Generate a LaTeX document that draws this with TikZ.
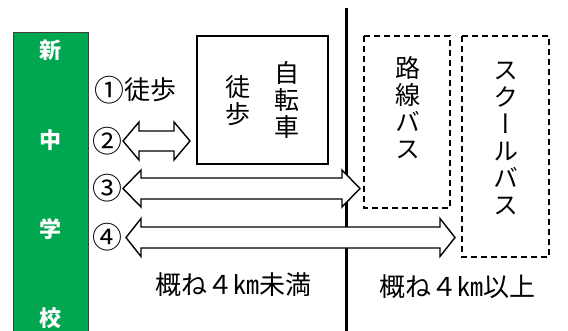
\documentclass[tikz,border=0pt]{standalone}
\usepackage{fontspec}
\newfontfamily\cjk{Noto Sans CJK JP}
\newfontfamily\cjkv{Noto Sans CJK JP}[RawFeature=+vert]
\definecolor{bargreen}{HTML}{00A650}
\newcommand\circnum[1]{\raisebox{-0.08em}{\scalebox{1.15}{#1}}}
\tikzset{
  txt/.style={font=\cjk\fontsize{26}{27}\selectfont, inner sep=0pt},
  vtxt/.style={font=\cjkv\fontsize{25}{27}\selectfont, inner sep=0pt, align=center},
  gtxt/.style={font=\cjk\bfseries\fontsize{22}{24}\selectfont, text=white, inner sep=0pt},
  arrowbox/.style={draw=black, fill=white, line width=1.4pt, line join=miter},
  solidbox/.style={draw=black, line width=1.8pt},
  dashbox/.style={draw=black, line width=1.4pt, dash pattern=on 6pt off 4pt},
}
\newcommand\dblarrow[6]{%
  \draw[arrowbox] (#1,#3) -- ({#1+#6},{#3-#5}) -- ({#1+#6},{#3-#4}) -- ({#2-#6},{#3-#4})
    -- ({#2-#6},{#3-#5}) -- (#2,#3) -- ({#2-#6},{#3+#5}) -- ({#2-#6},{#3+#4})
    -- ({#1+#6},{#3+#4}) -- ({#1+#6},{#3+#5}) -- cycle;}
\begin{document}
\begin{tikzpicture}[x=1pt,y=-1pt]
\useasboundingbox (0,0) rectangle (568,330);
% green bar
\fill[bargreen, draw=black!75, line width=1pt] (13,32) rectangle (88,334);
\node[gtxt] (g1) at (50.5,50) {新};
\node[gtxt] (g2) at (50.5,140) {中};
\node[gtxt] (g3) at (50.5,229) {学};
\node[gtxt] (g4) at (50.5,318) {校};
% divider
\draw[line width=3pt] (346,8) -- (346,332);
% boxes
\draw[solidbox] (197,36) rectangle (328,164);
\node[vtxt] (walk) at (238,101) {徒\\歩};
\node[vtxt] (bike) at (287,100) {自\\転\\車};
\draw[dashbox] (364,36) rectangle (450,208);
\node[vtxt] (rbus) at (408,108) {路\\線\\バ\\ス};
\draw[dashbox] (462,36) rectangle (549,257);
\node[vtxt] (sbus) at (506,138) {ス\\ク\\ー\\ル\\バ\\ス};
% labels
\node[txt, anchor=west] (l1) at (94,90) {\circnum{①}徒歩};
\node[txt] (l2) at (107,141) {\circnum{②}};
\node[txt] (l3) at (107,188) {\circnum{③}};
\node[txt] (l4) at (107,237) {\circnum{④}};
% arrows
\dblarrow{123}{190}{141}{10}{19}{16}
\dblarrow{123}{360}{188.5}{10.5}{18.5}{18}
\dblarrow{126}{455}{237.5}{10.5}{19}{15}
% bottom labels
\node[txt] (near) at (233,285) {概ね４㎞未満};
\node[txt] (far) at (457,287) {概ね４㎞以上};
\end{tikzpicture}
\end{document}
